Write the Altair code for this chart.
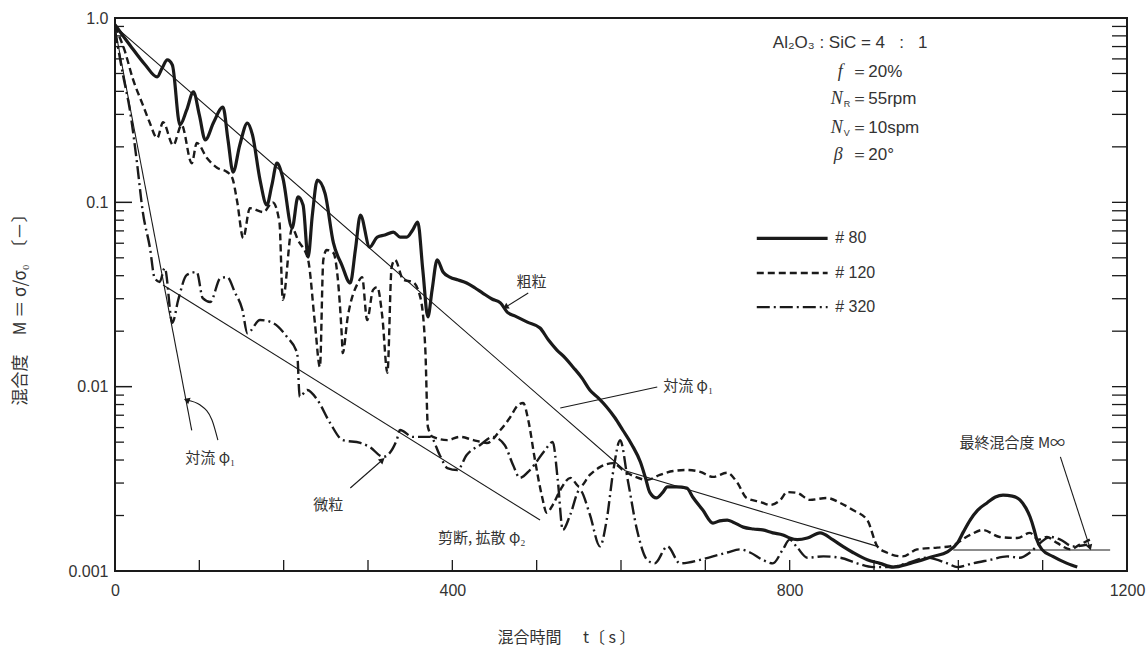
import altair as alt
import pandas as pd

# ---------------- data ----------------
t80 = [0, 18, 36, 50, 56, 62, 68, 77, 85, 93, 100, 107, 117, 128, 134, 140, 148, 157, 163, 172,
       180, 186, 192, 199, 210, 217, 223, 229, 234, 240, 249, 259, 269, 279, 285, 291, 302, 311, 320, 330,
       338, 346, 353, 359, 365, 371, 376, 382, 389, 397, 407, 417, 427, 436, 447, 457, 465, 474, 489, 504,
       514, 524, 534, 543, 554, 563, 573, 583, 593, 602, 613, 623, 629, 634, 642, 649, 655, 666, 678, 685,
       697, 709, 717, 726, 733, 745, 757, 768, 780, 792, 800, 809, 821, 836, 851, 863, 875, 892, 907, 923,
       943, 970, 987, 999, 1006, 1014, 1023, 1034, 1044, 1053, 1064, 1073, 1080, 1085, 1090, 1093, 1099, 1112, 1129, 1141]
m80 = [0.92, 0.71, 0.556, 0.479, 0.536, 0.592, 0.556, 0.263, 0.317, 0.397, 0.298, 0.218, 0.272, 0.329, 0.218, 0.146, 0.205, 0.269, 0.232, 0.132,
       0.0967, 0.124, 0.163, 0.136, 0.0725, 0.107, 0.0967, 0.0505, 0.0853, 0.132, 0.112, 0.0602, 0.0457, 0.0365, 0.0551, 0.0853, 0.0572, 0.0648, 0.0665, 0.069,
       0.0648, 0.0648, 0.0708, 0.0782, 0.0429, 0.0239, 0.0335, 0.0487, 0.0419, 0.0393, 0.0379, 0.0365, 0.0343, 0.0322, 0.0299, 0.0285, 0.0254, 0.0242, 0.0224, 0.0208,
       0.0179, 0.0158, 0.0143, 0.0128, 0.0111, 0.0096, 0.00869, 0.00776, 0.00676, 0.00582, 0.00483, 0.0039, 0.0032, 0.00268, 0.00249, 0.00265, 0.00286, 0.00286, 0.00282, 0.00252,
       0.00214, 0.00182, 0.00187, 0.00189, 0.00184, 0.00173, 0.00169, 0.00167, 0.00161, 0.00157, 0.00151, 0.00148, 0.00151, 0.00161, 0.00148, 0.00136, 0.00126, 0.00115, 0.0011, 0.00105,
       0.0011, 0.0012, 0.00127, 0.00142, 0.00163, 0.00189, 0.00214, 0.00234, 0.00252, 0.00258, 0.00255, 0.00243, 0.0022, 0.00197, 0.00167, 0.00148, 0.00131, 0.0012, 0.0011, 0.00105]

t120 = [0, 12, 21, 33, 41, 50, 57, 69, 79, 91, 97, 109, 121, 133, 139, 145, 152, 160, 176, 187,
        195, 199, 210, 217, 229, 237, 243, 247, 251, 259, 264, 269, 270, 276, 288, 293, 299, 306, 311, 317,
        323, 328, 332, 342, 353, 362, 368, 371, 377, 394, 409, 425, 441, 457, 468, 478, 484, 490, 498, 506,
        512, 519, 528, 540, 551, 563, 575, 591, 602, 617, 631, 646, 662, 678, 694, 709, 726, 738, 749, 765,
        777, 789, 797, 809, 824, 844, 860, 875, 892, 904, 915, 934, 951, 975, 990, 1014, 1029, 1049, 1070, 1085,
        1095, 1105, 1117, 1133, 1144, 1156]
m120 = [0.9, 0.654, 0.47, 0.338, 0.272, 0.223, 0.272, 0.204, 0.263, 0.163, 0.21, 0.174, 0.154, 0.146, 0.136, 0.1, 0.064, 0.093, 0.0885, 0.1,
        0.078, 0.0296, 0.0725, 0.0624, 0.0487, 0.0222, 0.0128, 0.0487, 0.0551, 0.0531, 0.0393, 0.0186, 0.0152, 0.0239, 0.0365, 0.0393, 0.023, 0.0335, 0.0347, 0.0239,
        0.0119, 0.0445, 0.0487, 0.0379, 0.037, 0.0306, 0.0158, 0.00605, 0.00534, 0.00513, 0.00534, 0.00513, 0.00495, 0.00582, 0.00676, 0.00795, 0.00816, 0.0066, 0.004, 0.00258,
        0.00207, 0.00228, 0.00275, 0.0032, 0.00286, 0.00332, 0.00366, 0.00385, 0.00353, 0.00324, 0.00312, 0.00332, 0.00349, 0.00353, 0.00345, 0.00324, 0.00341, 0.00301, 0.00249, 0.00237,
        0.00228, 0.00243, 0.00268, 0.00265, 0.00243, 0.00249, 0.00234, 0.00214, 0.00189, 0.00136, 0.00126, 0.0012, 0.00131, 0.00134, 0.00136, 0.00157, 0.00167, 0.00153, 0.00151, 0.00161,
        0.00148, 0.00153, 0.00142, 0.00131, 0.00139, 0.00148]

t320 = [0, 9.5, 18, 26, 33, 41.5, 47, 53, 59, 68, 75, 85, 97, 104, 113, 125, 133, 142, 151, 157,
        172, 187, 204, 216, 219, 228, 240, 255, 270, 291, 302, 318, 334, 338, 353, 374, 385, 394, 406, 417,
        433, 448, 462, 472, 480, 492, 510, 519, 525, 531, 540, 551, 563, 575, 583, 591, 599, 608, 619, 631,
        640, 655, 670, 694, 709, 726, 741, 753, 768, 780, 792, 800, 809, 821, 840, 860, 880, 899, 919, 939,
        963, 987, 999, 1017, 1038, 1058, 1073, 1085, 1097, 1109, 1121, 1136, 1153]
m320 = [0.86, 0.49, 0.31, 0.165, 0.0885, 0.0565, 0.0388, 0.037, 0.044, 0.0222, 0.0296, 0.0403, 0.0419, 0.0302, 0.0288, 0.0388, 0.0393, 0.0326, 0.0262, 0.0195,
        0.023, 0.0222, 0.0186, 0.0152, 0.0088, 0.0096, 0.00847, 0.00636, 0.00513, 0.00495, 0.00471, 0.00416, 0.00513, 0.00582, 0.00534, 0.00534, 0.00426, 0.00362, 0.00353, 0.00426,
        0.00483, 0.00534, 0.00483, 0.00376, 0.0032, 0.00353, 0.00453, 0.00502, 0.00312, 0.00167, 0.00203, 0.00275, 0.00203, 0.00136, 0.00189, 0.00353, 0.00513, 0.00312, 0.00167, 0.00115,
        0.0011, 0.00136, 0.0011, 0.00115, 0.0012, 0.00126, 0.00131, 0.00126, 0.00115, 0.0011, 0.00131, 0.00148, 0.00134, 0.00118, 0.0012, 0.00118, 0.0011, 0.00105, 0.00105, 0.0011,
        0.00118, 0.0011, 0.00105, 0.0011, 0.00115, 0.0012, 0.00118, 0.00126, 0.00142, 0.00153, 0.00148, 0.00136, 0.00139]

# straight guide lines (convection phi1, shear/diffusion phi2)
guide_id = ["phi1_80", "phi1_80", "phi1_80", "phi1_320", "phi1_320", "phi2_320", "phi2_320"]
guide_t = [0, 605, 904, 0, 91, 57, 504]
guide_m = [0.9, 0.0035, 0.00136, 0.88, 0.0058, 0.0356, 0.00189]

# final mixing degree line
minf_t = [994, 1180]
minf_m = 0.0013

# axis ticks
xtick_vals = [0, 400, 800, 1200]
xminor = [100, 200, 300, 400, 500, 600, 700, 800, 900, 1000, 1100]
ymajor = [0.1, 0.01]
yminor = [0.002, 0.003, 0.004, 0.005, 0.006, 0.007, 0.008, 0.009,
          0.02, 0.03, 0.04, 0.05, 0.06, 0.07, 0.08, 0.09,
          0.2, 0.3, 0.4, 0.5, 0.6, 0.7, 0.8, 0.9]

# annotations
labels_cjk = ["粗粒", "対流 φ₁", "微粒", "対流 φ₁", "剪断, 拡散  φ₂", "最終混合度  M∞"]
labels_t = [494, 650, 253, 113, 435, 1064]
labels_m = [0.037, 0.0101, 0.00228, 0.0041, 0.00151, 0.00495]
labels_align = ["center", "left", "center", "center", "center", "center"]

leader_id = ["coarse", "coarse", "conv", "conv", "fine", "fine", "minf", "minf",
             "convL", "convL", "convL", "convL"]
leader_t = [490, 463, 528, 643, 279, 317, 1121, 1156, 122, 115, 101, 85]
leader_m = [0.0322, 0.027, 0.00766, 0.00996, 0.00282, 0.004, 0.00416, 0.00134,
            0.00513, 0.0066, 0.00795, 0.00847]
head_t = [463, 317, 1156, 85]
head_m = [0.027, 0.004, 0.00134, 0.00847]
head_ang = [239, 49, 162, 291]

# legend
legend_names = ["# 80", "# 120", "# 320"]
legend_m = [0.0637, 0.0414, 0.027]
legend_t1, legend_t2, legend_tt = 761, 845, 854

# condition block
NB = "\u00a0"
cond_main = [f"Al₂O₃{NB}:{NB}SiC{NB}={NB}4{NB}{NB}{NB}:{NB}{NB}{NB}1"]
cond_sym = ["f", "N", "N", "β"]
cond_sub = ["R", "V"]
cond_val = ["＝20%", "＝55rpm", "＝10spm", "＝20°"]
cond_m = [0.732, 0.51, 0.364, 0.253, 0.18]
cond_sub_m = [0.342, 0.238]

x_title = f"混合時間{NB}{NB}{NB}{NB}{NB}{NB}t〔{NB}s{NB}〕"
y_title = f"混合度{NB}{NB}{NB}{NB}{NB}M{NB}＝{NB}σ/σ₀{NB}{NB}〔－〕"

# ---------------- chart ----------------
W, H = 1012, 553
INK = "#1a1a1a"
TXT = "#333"
xs = alt.Scale(domain=[0, 1200], nice=False, zero=False)
ys = alt.Scale(type="log", domain=[0.001, 1], nice=False)

x_axis = alt.Axis(values=xtick_vals, ticks=False, domain=False, grid=False, labelPadding=11,
                  format="d",
                  labelFont="Liberation Sans", labelFontSize=16, labelColor=TXT, labelFlush=False,
                  title=x_title, titleFont="Noto Sans CJK JP", titleFontSize=16,
                  titleFontWeight="normal", titleColor=TXT, titleX=451, titleY=66, titleBaseline="middle")
y_axis = alt.Axis(values=[0.001, 0.01, 0.1, 1], ticks=False, domain=False, grid=False, labelPadding=7,
                  labelFont="Liberation Sans", labelFontSize=16, labelColor=TXT,
                  labelExpr="datum.value >= 0.99 ? '1.0' : datum.value >= 0.099 ? '0.1' : datum.value >= 0.0099 ? '0.01' : '0.001'",
                  title=y_title, titleFont="Noto Sans CJK JP", titleFontSize=17,
                  titleFontWeight="normal", titleColor=TXT, titleX=-95, titleY=287, titleAngle=270,
                  titleBaseline="middle", titleAlign="center")


def X(field="t"):
    return alt.X(f"{field}:Q", scale=xs, axis=x_axis)


def Y(field="m"):
    return alt.Y(f"{field}:Q", scale=ys, axis=y_axis)


def series_df(t, m):
    return pd.DataFrame({"t": t, "m": m, "i": list(range(len(t)))})


styles = {
    "80": dict(strokeWidth=3.2),
    "120": dict(strokeWidth=2.4, strokeDash=[7, 4]),
    "320": dict(strokeWidth=2.4, strokeDash=[13, 4, 2, 4]),
}

curves = []
for (t, m), key in [((t80, m80), "80"), ((t120, m120), "120"), ((t320, m320), "320")]:
    curves.append(alt.Chart(series_df(t, m)).mark_line(color=INK, clip=True, strokeJoin="round",
                                                        interpolate="monotone",
                                                        **styles[key]).encode(x=X(), y=Y(), order="i:Q"))

guides = alt.Chart(pd.DataFrame({"g": guide_id, "t": guide_t, "m": guide_m})).mark_line(
    color=INK, strokeWidth=1.1).encode(x=X(), y=Y(), detail="g:N")

minf = alt.Chart(pd.DataFrame({"t": [minf_t[0]], "t2": [minf_t[1]], "m": [minf_m]})).mark_rule(
    color=INK, strokeWidth=1.1).encode(x=X(), x2="t2:Q", y=Y())

leaders = alt.Chart(pd.DataFrame({"g": leader_id, "t": leader_t, "m": leader_m,
                                  "i": list(range(len(leader_t)))})).mark_line(
    color=INK, strokeWidth=1.1, interpolate="monotone").encode(x=X(), y=Y(), detail="g:N", order="i:Q")
heads = alt.Chart(pd.DataFrame({"t": head_t, "m": head_m, "a": head_ang})).mark_point(
    shape="triangle-up", filled=True, size=45, color=INK, opacity=1).encode(
    x=X(), y=Y(), angle=alt.Angle("a:Q", scale=None))

lab_df = pd.DataFrame({"txt": labels_cjk, "t": labels_t, "m": labels_m, "al": labels_align})
lab_c = alt.Chart(lab_df[lab_df.al == "center"]).mark_text(
    font="Noto Sans CJK JP", fontSize=15, color=TXT, align="center", baseline="middle").encode(
    x=X(), y=Y(), text="txt:N")
lab_l = alt.Chart(lab_df[lab_df.al == "left"]).mark_text(
    font="Noto Sans CJK JP", fontSize=15, color=TXT, align="left", baseline="middle").encode(
    x=X(), y=Y(), text="txt:N")

# ticks (inward)
tick_b = alt.Chart(pd.DataFrame({"t": xminor})).mark_rule(color=INK, strokeWidth=1.3).encode(
    x=X(), y=alt.value(H), y2=alt.value(H - 11))
tick_lM = alt.Chart(pd.DataFrame({"m": ymajor})).mark_rule(color=INK, strokeWidth=1.5).encode(
    y=Y(), x=alt.value(0), x2=alt.value(17))
tick_lm = alt.Chart(pd.DataFrame({"m": yminor})).mark_rule(color=INK, strokeWidth=1.3).encode(
    y=Y(), x=alt.value(0), x2=alt.value(9))
tick_r = alt.Chart(pd.DataFrame({"m": ymajor + yminor})).mark_rule(color=INK, strokeWidth=1.3).encode(
    y=Y(), x=alt.value(W), x2=alt.value(W - 15))

# legend
leg = []
for name, mv, key in zip(legend_names, legend_m, ["80", "120", "320"]):
    d = pd.DataFrame({"t": [legend_t1], "t2": [legend_t2], "m": [mv], "txt": [name]})
    leg.append(alt.Chart(d).mark_rule(color=INK, **styles[key]).encode(x=X(), x2="t2:Q", y=Y()))
leg_txt = alt.Chart(pd.DataFrame({"t": [legend_tt] * 3, "m": legend_m, "txt": legend_names})).mark_text(
    font="Liberation Sans", fontSize=16, color=TXT, align="left", baseline="middle").encode(
    x=X(), y=Y(), text="txt:N")

# condition block
c1 = alt.Chart(pd.DataFrame({"t": [780], "m": [cond_m[0]], "txt": cond_main})).mark_text(
    font="Liberation Sans", fontSize=17, color=TXT, align="left", baseline="middle").encode(
    x=X(), y=Y(), text="txt:N")
c_sym = alt.Chart(pd.DataFrame({"t": [863] * 4, "m": cond_m[1:], "txt": cond_sym})).mark_text(
    font="Liberation Serif", fontStyle="italic", fontSize=18, color=TXT, align="right", baseline="middle").encode(
    x=X(), y=Y(), text="txt:N")
c_sub = alt.Chart(pd.DataFrame({"t": [864] * 2, "m": cond_sub_m, "txt": cond_sub})).mark_text(
    font="Liberation Sans", fontSize=9, color=TXT, align="left", baseline="middle").encode(
    x=X(), y=Y(), text="txt:N")
c_val = alt.Chart(pd.DataFrame({"t": [873] * 4, "m": cond_m[1:], "txt": cond_val})).mark_text(
    font="Liberation Sans", fontSize=17, color=TXT, align="left", baseline="middle").encode(
    x=X(), y=Y(), text="txt:N")

chart = alt.layer(guides, minf, leaders, heads, *curves, tick_b, tick_lM, tick_lm, tick_r,
                  *leg, leg_txt, lab_c, lab_l, c1, c_sym, c_sub, c_val).properties(
    width=W, height=H,
    padding={"left": 115, "top": 18, "right": 19, "bottom": 75},
    autosize=alt.AutoSizeParams(type="none"),
    background="white",
).configure_view(stroke=INK, strokeWidth=2)

chart.save("out.html", embed_options={"renderer": "svg", "actions": False})
